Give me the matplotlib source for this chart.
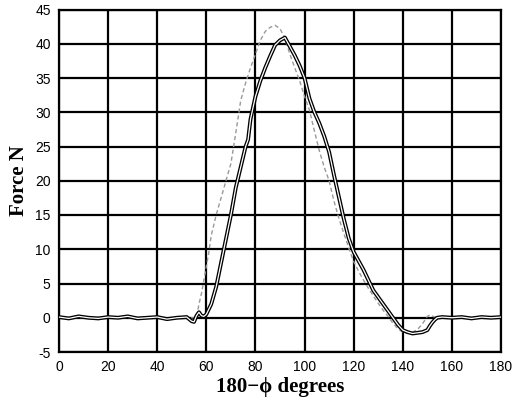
import matplotlib
matplotlib.use("Agg")
import matplotlib.pyplot as plt

plt.rcParams['axes.unicode_minus'] = False

# Measured force (dark hollow curve)
meas_x = [0, 4, 8, 12, 16, 20, 24, 28, 32, 36, 40, 44, 48, 52, 54, 55, 56, 57, 58, 59, 60,
          62, 64, 66, 68, 70, 72, 74, 76, 77, 78, 80, 82, 84, 86, 88, 90, 92, 94, 96, 98,
          100, 102, 104, 106, 108, 110, 112, 114, 116, 118, 120, 122, 124, 126, 128, 130,
          132, 134, 136, 138, 140, 142, 144, 146, 148, 150, 151, 152, 153, 154, 156, 160,
          164, 168, 172, 176, 180]
meas_y = [0.1, -0.1, 0.2, 0.0, -0.1, 0.1, 0.0, 0.2, -0.1, 0.0, 0.1, -0.2, 0.0, 0.1, -0.5, -0.6,
          0.3, 0.8, 0.3, 0.2, 0.5,
          2.0, 4.5, 8.0, 11.5, 15.0, 19.0, 22.0, 25.0, 26.0, 29.0, 32.3, 34.6, 36.5, 38.2,
          39.8, 40.5, 40.9, 39.6, 38.3, 36.8,
          35.0, 32.0, 30.0, 28.4, 26.5, 24.2, 20.8, 17.6, 14.4, 11.6, 9.6, 8.3, 7.0, 5.5,
          4.0, 3.0, 2.0, 1.0, 0.0, -1.0, -1.8, -2.1, -2.3, -2.2, -2.1, -1.8, -1.2, -0.7,
          -0.3, 0.0, 0.1, 0.0, 0.1, -0.1, 0.1, 0.0, 0.1]

# Second (light dashed) curve
model_x = [0, 20, 40, 56, 57, 58, 59, 60, 61, 62, 63, 64, 66, 68, 70, 72, 74, 76, 78, 80,
           82, 84, 86, 88, 90, 92, 94, 96, 98, 100, 102, 104, 106, 108, 110, 112, 114, 116,
           118, 120, 122, 124, 126, 128, 130, 132, 134, 136, 138, 140, 142, 144, 146, 148,
           150, 151, 153, 156, 180]
model_y = [0.0, 0.0, 0.0, 0.0, 2.0, 3.5, 5.5, 7.5, 9.5, 12.0, 13.5, 15.0, 17.5, 20.0, 22.5,
           27.0, 31.7, 34.3, 36.5, 38.5, 40.5, 41.8, 42.4, 42.7, 42.2, 40.8, 38.5, 36.5,
           34.6, 32.3, 30.3, 27.3, 24.4, 22.0, 20.0, 17.0, 14.5, 12.3, 10.2, 8.2, 6.8, 5.5,
           4.3, 3.2, 2.1, 1.1, 0.2, -0.8, -1.6, -2.1, -2.3, -2.1, -1.7, -0.9, 0.2, 0.4,
           0.1, 0.0, 0.0]

x_ticks = [0, 20, 40, 60, 80, 100, 120, 140, 160, 180]
y_ticks = [-5, 0, 5, 10, 15, 20, 25, 30, 35, 40, 45]

fig = plt.figure(figsize=(5.18, 4.04), dpi=100)
ax = fig.add_axes([59 / 518, 52 / 404, 442 / 518, 342.5 / 404])

ax.plot(model_x, model_y, color='0.6', lw=1.0, ls=(0, (3, 2)), zorder=3)
ax.plot(meas_x, meas_y, color='black', lw=2.8, zorder=4, solid_joinstyle='round')
ax.plot(meas_x, meas_y, color='white', lw=0.9, zorder=5, solid_joinstyle='round')

ax.set_xlim(0, 180)
ax.set_ylim(-5, 45)
ax.set_xticks(x_ticks)
ax.set_yticks(y_ticks)
ax.grid(True, color='black', lw=1.6)
ax.set_axisbelow(True)
for s in ax.spines.values():
    s.set_linewidth(1.6)
ax.tick_params(length=0, pad=6, labelsize=10)
for lab in ax.get_xticklabels() + ax.get_yticklabels():
    lab.set_family(['Liberation Sans', 'DejaVu Sans'])

ax.set_xlabel('180\u2212\u03d5 degrees', family=['Liberation Serif', 'DejaVu Serif'],
              fontweight='bold', fontsize=15, labelpad=2)
ax.set_ylabel('Force N', family=['Liberation Serif', 'DejaVu Serif'],
              fontweight='bold', fontsize=15, labelpad=4)

fig.savefig('out.png', dpi=100)
